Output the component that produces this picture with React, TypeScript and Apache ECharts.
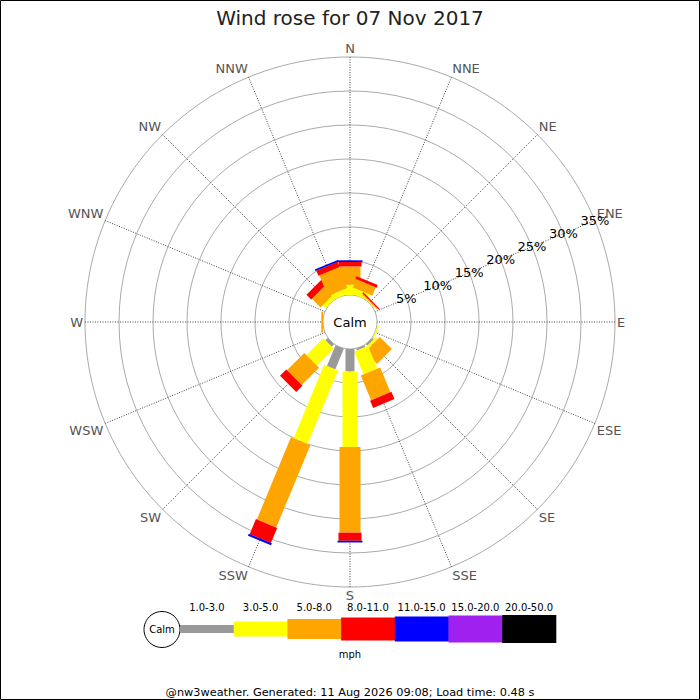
import React, { useEffect, useRef } from 'react';
import * as echarts from 'echarts';

// ---------- data ----------
const DIRECTIONS = ['N', 'NNE', 'NE', 'ENE', 'E', 'ESE', 'SE', 'SSE', 'S', 'SSW', 'SW', 'WSW', 'W', 'WNW', 'NW', 'NNW'];
const SPEED_BINS = ['1.0-3.0', '3.0-5.0', '5.0-8.0', '8.0-11.0', '11.0-15.0', '15.0-20.0', '20.0-50.0'];
// percent of time, per direction (N ... NNW), for each speed bin (mph)
const PCT_1_3 = [0, 0, 0, 0, 0, 0, 0.3, 0.3, 3.3, 3.3, 0.5, 0, 0, 0, 0, 0];
const PCT_3_5 = [1.5, 0.9, 0.15, 0, 0, 0.2, 0.4, 3.6, 11.1, 11.7, 3.5, 0, 0, 0, 0.6, 0.8];
const PCT_5_8 = [2.7, 1.3, 0.15, 0, 0, 0, 2.5, 3.95, 12.6, 13.1, 3.6, 0, 0.25, 0, 1.8, 3.3];
const PCT_8_11 = [0.65, 0.4, 0.2, 0, 0, 0, 0, 1.15, 1.2, 2.4, 1.3, 0, 0, 0, 1.0, 0.8];
const PCT_11_15 = [0.25, 0, 0, 0, 0, 0, 0, 0, 0.25, 0.3, 0, 0, 0, 0, 0, 0.25];
const PCT_15_20 = [0, 0, 0, 0, 0, 0, 0, 0, 0, 0, 0, 0, 0, 0, 0, 0];
const PCT_20_50 = [0, 0, 0, 0, 0, 0, 0, 0, 0, 0, 0, 0, 0, 0, 0, 0];
const PCT_TICKS = [5, 10, 15, 20, 25, 30, 35];
const TITLE = 'Wind rose for 07 Nov 2017';
const UNIT = 'mph';
const CALM = 'Calm';
const FOOTER = '@nw3weather. Generated: 11 Aug 2026 09:08; Load time: 0.48 s';

// ---------- styles ----------
const BIN_COLORS = ['#999999', '#ffff00', '#ffa500', '#ff0000', '#0000ff', '#a020f0', '#000000'];
const BIN_WIDTHS = [9, 15, 21, 23, 25, 27, 29];
const LEGEND_HEIGHTS = [8, 15, 20, 23, 25, 27, 28];
const CX = 350;
const CY = 322;
const R_INNER = 27;
const R_OUTER = 265;
const FONT = 'DejaVu Sans';
const STEP = 360 / DIRECTIONS.length;
const LABEL_ANGLE = 67.5;

function buildBars() {
  const bins = [PCT_1_3, PCT_3_5, PCT_5_8, PCT_8_11, PCT_11_15, PCT_15_20, PCT_20_50];
  const out: number[][] = [];
  DIRECTIONS.forEach((_, i) => {
    let cum = 0;
    bins.forEach((arr, b) => {
      const v = arr[i];
      if (v > 0) {
        out.push([i * STEP, cum, cum + v, b]);
        cum += v;
      }
    });
  });
  return out;
}

function buildLegend() {
  const els: any[] = [];
  const x0 = 180;
  const w = 53.7;
  const cy = 629;
  els.push({
    type: 'circle',
    shape: { cx: 162, cy: cy + 0.5, r: 18 },
    style: { fill: '#fff', stroke: '#000', lineWidth: 1 },
  });
  els.push({
    type: 'text',
    x: 162,
    y: cy + 0.5,
    style: { text: CALM, fill: '#000', fontSize: 10, fontFamily: FONT, align: 'center', verticalAlign: 'middle' },
  });
  SPEED_BINS.forEach((lab, i) => {
    const h = LEGEND_HEIGHTS[i];
    els.push({
      type: 'rect',
      shape: { x: x0 + i * w, y: cy - h / 2, width: w + 0.4, height: h },
      style: { fill: BIN_COLORS[i] },
    });
    els.push({
      type: 'text',
      x: x0 + (i + 0.5) * w,
      y: 607,
      style: { text: lab, fill: '#000', fontSize: 10, fontFamily: FONT, align: 'center', verticalAlign: 'middle' },
    });
  });
  els.push({
    type: 'text',
    x: CX,
    y: 654,
    style: { text: UNIT, fill: '#000', fontSize: 10, fontFamily: FONT, align: 'center', verticalAlign: 'middle' },
  });
  return els;
}

export default function App() {
  const ref = useRef<HTMLDivElement>(null);
  useEffect(() => {
    if (!ref.current) return;
    const chart = echarts.init(ref.current, undefined, { renderer: 'svg' });
    const option: any = {
      animation: false,
      backgroundColor: '#fff',
      title: {
        text: TITLE,
        left: 'center',
        top: 3,
        textStyle: { fontSize: 20, fontWeight: 'normal', color: '#222', fontFamily: FONT },
      },
      polar: { center: [CX, CY], radius: [R_INNER, R_OUTER] },
      angleAxis: {
        type: 'value',
        min: 0,
        max: 360,
        interval: STEP,
        startAngle: 90,
        clockwise: true,
        axisLine: { show: false },
        axisTick: { show: false },
        axisLabel: {
          margin: 2,
          color: '#555',
          fontSize: 13,
          fontFamily: FONT,
          formatter: (v: number) => (v >= 360 ? '' : DIRECTIONS[Math.round(v / STEP) % DIRECTIONS.length]),
        },
        splitLine: { show: true, lineStyle: { color: '#444', width: 1, type: [1, 1.5] } },
      },
      radiusAxis: {
        type: 'value',
        min: 0,
        max: 35,
        interval: 5,
        axisLine: { show: false },
        axisTick: { show: false },
        axisLabel: { show: false },
        splitLine: { show: true, lineStyle: { color: '#aaaaaa', width: 1 } },
      },
      series: [
        {
          type: 'custom',
          coordinateSystem: 'polar',
          data: buildBars(),
          encode: { angle: 0, radius: 2 },
          z: 5,
          silent: true,
          renderItem: (params: any, api: any) => {
            const ang = api.value(0);
            const a = api.value(1);
            const b = api.value(2);
            const bin = api.value(3);
            const o = api.coord([0, ang]);
            const far = api.coord([35, ang]);
            let ux = far[0] - o[0];
            let uy = far[1] - o[1];
            const L = Math.hypot(ux, uy) || 1;
            ux /= L;
            uy /= L;
            const nx = -uy;
            const ny = ux;
            const hw = BIN_WIDTHS[bin] / 2;
            const p0 = api.coord([a, ang]);
            const p1 = api.coord([b, ang]);
            return {
              type: 'polygon',
              shape: {
                points: [
                  [p0[0] + nx * hw, p0[1] + ny * hw],
                  [p1[0] + nx * hw, p1[1] + ny * hw],
                  [p1[0] - nx * hw, p1[1] - ny * hw],
                  [p0[0] - nx * hw, p0[1] - ny * hw],
                ],
              },
              style: { fill: BIN_COLORS[bin] },
            };
          },
        },
        {
          type: 'custom',
          coordinateSystem: 'polar',
          data: PCT_TICKS.map((p) => [p, LABEL_ANGLE]),
          encode: { radius: 0, angle: 1 },
          z: 10,
          silent: true,
          renderItem: (params: any, api: any) => {
            const p = api.coord([api.value(0), api.value(1)]);
            return {
              type: 'text',
              x: p[0],
              y: p[1],
              style: {
                text: api.value(0) + '%',
                fill: '#000',
                fontSize: 13,
                fontFamily: FONT,
                align: 'center',
                verticalAlign: 'middle',
              },
            };
          },
        },
      ],
      graphic: [
        {
          type: 'text',
          x: CX,
          y: CY,
          z: 100,
          style: { text: CALM, fill: '#000', fontSize: 13, fontFamily: FONT, align: 'center', verticalAlign: 'middle' },
        },
        ...buildLegend(),
        {
          type: 'text',
          x: CX,
          y: 692,
          style: { text: FOOTER, fill: '#000', fontSize: 11.3, fontFamily: FONT, align: 'center', verticalAlign: 'middle' },
        },
        {
          type: 'rect',
          shape: { x: 0.5, y: 0.5, width: 699, height: 699 },
          style: { fill: 'none', stroke: '#000', lineWidth: 1 },
          z: 200,
        },
      ],
    };
    chart.setOption(option);
    return () => chart.dispose();
  }, []);
  return (
    <div
      ref={ref}
      style={{ position: 'absolute', left: 0, top: 0, width: 700, height: 700 }}
    />
  );
}
